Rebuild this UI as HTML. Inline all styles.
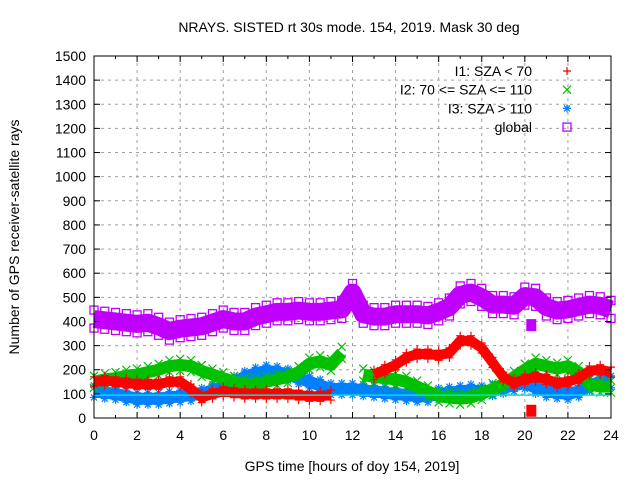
<!DOCTYPE html>
<html><head><meta charset="utf-8"><style>
body{margin:0;background:#fff}
svg{display:block;font-family:"Liberation Sans",sans-serif}
</style></head><body>
<svg id="chart" width="640" height="480">
<text x="349" y="32" font-size="14" text-anchor="middle">NRAYS. SISTED rt 30s mode. 154, 2019. Mask 30 deg</text>
<text x="352" y="471" font-size="14" text-anchor="middle">GPS time [hours of doy 154, 2019]</text>
<text transform="translate(19,237) rotate(-90)" font-size="14" text-anchor="middle">Number of GPS receiver-satellite rays</text>
<g id="grid"></g><g id="marks"></g><g id="axes"></g><g id="legend"></g>
</svg>
<script>
const hours=[0,0.5,1,1.5,2,2.5,3,3.5,4,4.5,5,5.5,6,6.5,7,7.5,8,8.5,9,9.5,10,10.5,11,11.5,12,12.5,13,13.5,14,14.5,15,15.5,16,16.5,17,17.5,18,18.5,19,19.5,20,20.5,21,21.5,22,22.5,23,23.5,24];
const red=[150,155,150,145,140,140,140,150,150,120,85,100,110,105,100,100,100,100,100,95,90,90,95,null,null,null,180,200,220,250,265,265,260,270,320,320,290,230,170,145,160,170,160,145,150,165,195,200,190];
const green=[150,160,165,175,180,190,200,215,220,215,195,180,165,150,140,140,150,160,170,190,225,235,220,270,null,180,170,165,160,150,130,110,90,85,80,85,100,120,140,170,200,225,215,205,215,190,140,130,130];
const blue=[110,105,100,90,80,80,80,85,90,95,100,115,130,150,170,185,195,190,180,165,150,135,120,120,120,115,110,105,100,95,90,90,100,105,110,115,110,115,125,135,145,125,110,105,100,110,135,150,150];
const globalRays=[410,405,400,395,390,395,380,360,370,375,380,395,410,400,400,420,430,440,440,445,440,440,445,450,520,430,420,420,430,430,430,425,440,460,510,520,500,470,470,465,505,500,460,445,450,460,470,465,450];
const outlierHours=[20.3,20.3];
const outlierValues=[30,385];
const xTicks=[0,2,4,6,8,10,12,14,16,18,20,22,24];
const yTicks=[0,100,200,300,400,500,600,700,800,900,1000,1100,1200,1300,1400,1500];
const L=94,R=611,T=56,B=418;
const X=h=>L+h/24*(R-L), Y=v=>B-v/1500*(B-T);
const NS="http://www.w3.org/2000/svg";
function mk(t,a,p){const e=document.createElementNS(NS,t);for(const k in a)e.setAttribute(k,a[k]);p.appendChild(e);return e;}
const grid=document.getElementById('grid'),axes=document.getElementById('axes'),marks=document.getElementById('marks'),leg=document.getElementById('legend');
yTicks.forEach(v=>{
 if(v>0&&v<1500){const g=mk('line',{x1:L,x2:R,y1:Y(v),y2:Y(v),stroke:'#a0a0a0','stroke-dasharray':'3,4'},grid);
 
 }
 mk('line',{x1:L,x2:L+6,y1:Y(v),y2:Y(v),stroke:'#000'},axes);
 mk('line',{x1:R,x2:R-6,y1:Y(v),y2:Y(v),stroke:'#000'},axes);
 const t=mk('text',{x:L-8,y:Y(v)+5,'font-size':14,'text-anchor':'end'},axes);t.textContent=v;
 
 
});
xTicks.forEach(h=>{
 if(h>0&&h<24){const g=mk('line',{x1:X(h),x2:X(h),y1:T,y2:B,stroke:'#a0a0a0','stroke-dasharray':'3,4'},grid);
 
 }
 mk('line',{x1:X(h),x2:X(h),y1:B,y2:B-6,stroke:'#000'},axes);
 mk('line',{x1:X(h),x2:X(h),y1:T,y2:T+6,stroke:'#000'},axes);
 const t=mk('text',{x:X(h),y:B+22,'font-size':14,'text-anchor':'middle'},axes);t.textContent=h;
 
 
});
for(let h=1;h<24;h+=2){mk('line',{x1:X(h),x2:X(h),y1:B,y2:B-3,stroke:'#000'},axes);mk('line',{x1:X(h),x2:X(h),y1:T,y2:T+3,stroke:'#000'},axes);}
const fr=mk('rect',{x:L,y:T,width:R-L,height:B-T,fill:'none',stroke:'#000'},axes);


function band(vals,col,w,name){
 let segs=[],cur=[];
 vals.forEach((v,i)=>{if(v==null){if(cur.length)segs.push(cur);cur=[];}else cur.push(X(hours[i])+','+Y(v));});
 if(cur.length)segs.push(cur);
 segs.forEach(s=>{if(s.length===1)s.push(s[0]);
  const p=mk('polyline',{points:s.join(' '),fill:'none',stroke:col,'stroke-width':w,'stroke-linejoin':'round','stroke-linecap':'butt'},marks);
  
  });
}
function marker(type,x,y,col,g){
 if(type==='sq'){mk('rect',{x:x-4,y:y-4,width:8,height:8,fill:'none',stroke:col,'stroke-width':1.3},g);}
 else if(type==='plus'){mk('path',{d:`M${x-4},${y}H${x+4}M${x},${y-4}V${y+4}`,stroke:col,'stroke-width':1.2},g);}
 else if(type==='x'){mk('path',{d:`M${x-4},${y-4}L${x+4},${y+4}M${x-4},${y+4}L${x+4},${y-4}`,stroke:col,'stroke-width':1.2},g);}
 else {mk('path',{d:`M${x-4},${y}H${x+4}M${x},${y-4}V${y+4}M${x-3},${y-3}L${x+3},${y+3}M${x-3},${y+3}L${x+3},${y-3}`,stroke:col,'stroke-width':1.2},g);}
}
const series=[[globalRays,'#c000ff','sq','global-series',18],[blue,'#0080ff','star','i3-series',12],[green,'#00c000','x','i2-series',12],[red,'#ff0000','plus','i1-series',10]];
series.forEach(([vals,col,type,name,w])=>{
 band(vals,col,w,name);
 const g=mk('g',{},marks);
 
 
 vals.forEach((v,i)=>{if(v!=null){marker(type,X(hours[i]),Y(v)-w/2,col,g);marker(type,X(hours[i]),Y(v)+w/2,col,g);}});
});
const og=mk('g',{},marks);


outlierHours.forEach((h,i)=>{const v=outlierValues[i];const c=v<100?'#ff0000':'#c000ff';
 mk('rect',{x:X(h)-5,y:Y(v)-6,width:10,height:12,fill:c},og);});
const ref=mk('line',{x1:L,x2:R,y1:Y(95),y2:Y(95),stroke:'#00e0e0','stroke-width':1.5},marks);


const legendItems=[['I1: SZA < 70','#ff0000','plus'],['I2: 70 <= SZA <= 110','#00c000','x'],['I3: SZA > 110','#0080ff','star'],['global','#c000ff','sq']];
legendItems.forEach(([lab,col,type],i)=>{
 const y=71+i*18.7;
 const g=mk('g',{},leg);
 
 
 const t=mk('text',{x:532,y:y+5,'font-size':14,'text-anchor':'end'},g);t.textContent=lab;
 marker(type,567,y,col,g);
});
</script>
</body></html>
